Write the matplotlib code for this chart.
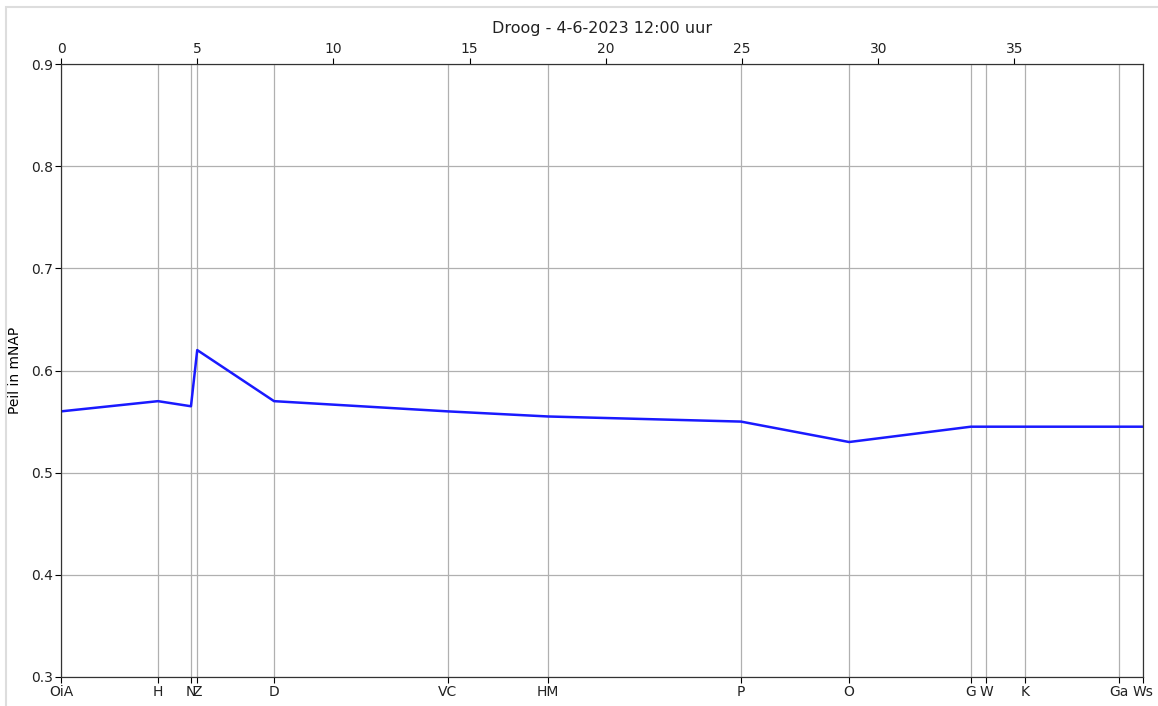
import matplotlib

matplotlib.use("Agg")
import matplotlib.pyplot as plt
from matplotlib.patches import Rectangle

# Station names and their distance along the route (top axis units)
stations = ["OiA", "H", "N", "Z", "D", "VC", "HM", "P", "O", "G", "W", "K", "Ga", "Ws"]
distance = [0.0, 3.56, 4.77, 5.0, 7.82, 14.2, 17.88, 24.96, 28.93, 33.4, 33.96, 35.39, 38.84, 39.72]
peil = [0.560, 0.570, 0.565, 0.620, 0.570, 0.560, 0.555, 0.550, 0.530, 0.545, 0.545, 0.545, 0.545, 0.545]

top_ticks = [0, 5, 10, 15, 20, 25, 30, 35]
y_ticks = [0.3, 0.4, 0.5, 0.6, 0.7, 0.8, 0.9]

plt.rcParams["text.color"] = "#222222"
plt.rcParams["xtick.labelcolor"] = "#222222"
plt.rcParams["ytick.labelcolor"] = "#222222"

fig = plt.figure(figsize=(11.58, 7.06), dpi=100)
ax = fig.add_axes([0.0527, 0.0411, 0.9344, 0.8682])

# light frame from the notebook screenshot
fig.patches.append(
    Rectangle((6 / 1158, -0.1), 1.2, 1.0 - 7 / 706 + 0.1, transform=fig.transFigure,
              fill=False, edgecolor="#dddddd", linewidth=1.5)
)

ax.plot(distance, peil, color="#1a1aff", linewidth=1.8)
ax.set_xlim(distance[0], distance[-1])
ax.set_ylim(0.3, 0.9)
ax.set_xticks(distance)
ax.set_xticklabels(stations, fontsize=10)
ax.set_yticks(y_ticks)
ax.set_yticklabels([f"{v:.1f}" for v in y_ticks], fontsize=10)
ax.set_ylabel("Peil in mNAP", fontsize=10, labelpad=6)
ax.grid(True, color="#b0b0b0", linewidth=0.9)
ax.tick_params(axis="both", length=4, pad=2)
for s in ax.spines.values():
    s.set_color("#333333")

top = ax.twiny()
top.set_xlim(ax.get_xlim())
top.set_xticks(top_ticks)
top.set_xticklabels([str(t) for t in top_ticks], fontsize=10)
top.tick_params(axis="x", length=4, pad=2)
top.set_title("Droog - 4-6-2023 12:00 uur", fontsize=11.5, pad=6)
for s in top.spines.values():
    s.set_color("#333333")

fig.savefig("out.png", dpi=100)
